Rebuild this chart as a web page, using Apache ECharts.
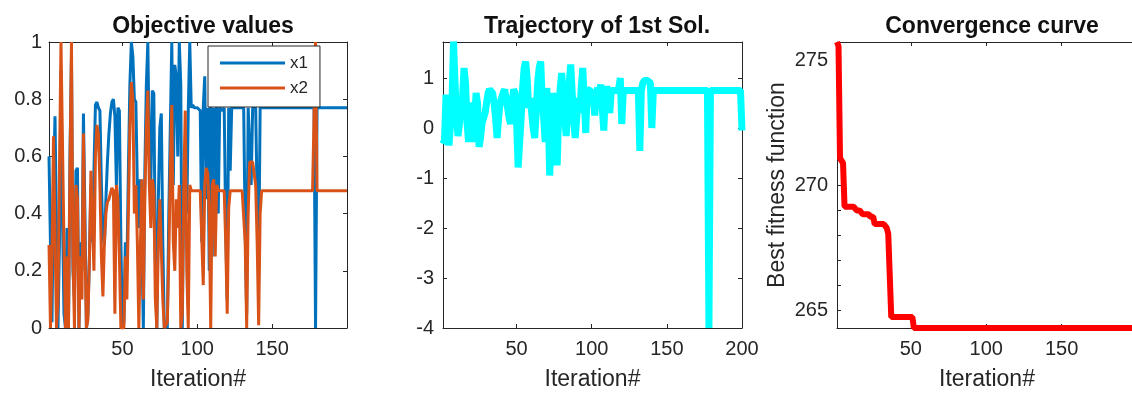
<!DOCTYPE html>
<html><head><meta charset="utf-8">
<script src="https://cdn.jsdelivr.net/npm/echarts@6/dist/echarts.min.js"></script>
<style>html,body{margin:0;padding:0;background:#fff}#c{width:1132px;height:393px}</style>
</head><body><div id="c"></div>
<script>
// ---- tick labels ----
const iterTicks1 = [50, 100, 150];
const iterTicks2 = [50, 100, 150, 200];
const iterTicks3 = [50, 100, 150];
const objTicks = [0, 0.2, 0.4, 0.6, 0.8, 1];
const trajTicks = [-4, -3, -2, -1, 0, 1];
const convLabelTicks = [265, 270, 275];
const convMinorTicks = [265, 266, 267, 268, 269, 270, 271, 272, 273, 274, 275];
const titles = ['Objective values', 'Trajectory of 1st Sol.', 'Convergence curve'];

// ---- series values, iteration 1..200 ----
const x1 = [
0.60,0.29,0.02,0.50,0.74,0.35,0.00,0.30,0.90,0.40,
0.05,0.00,0.35,0.00,0.60,0.95,0.20,0.10,0.55,0.56,
0.00,0.30,0.20,0.75,0.40,0.00,0.05,0.25,0.50,0.30,
0.55,0.78,0.79,0.77,0.76,0.50,0.32,0.29,0.45,0.58,
0.68,0.75,0.79,0.80,0.74,0.50,0.77,0.76,0.30,0.00,
0.02,0.30,0.20,0.55,0.85,1.00,0.95,0.80,0.79,0.50,
0.35,0.52,0.30,0.00,0.55,0.85,1.00,0.60,0.50,0.83,
0.82,0.25,0.00,0.45,0.70,0.75,0.30,0.00,0.02,0.00,
0.40,0.70,1.00,0.50,0.92,0.88,0.60,1.00,0.85,0.00,
0.50,0.55,0.40,0.76,1.00,0.77,0.78,0.77,0.77,0.77,
0.77,0.76,0.30,0.77,0.88,0.45,0.77,0.20,0.85,0.25,
0.77,0.50,0.82,0.40,0.77,0.77,0.76,0.77,0.35,0.10,
0.77,0.55,0.77,0.77,0.77,0.77,0.77,0.77,0.77,0.77,
0.77,0.35,0.05,0.77,0.77,0.50,0.77,0.77,0.77,0.45,
0.20,0.77,0.77,0.77,0.77,0.77,0.77,0.77,0.77,0.77,
0.77,0.77,0.77,0.77,0.77,0.77,0.77,0.77,0.77,0.77,
0.77,0.77,0.77,0.77,0.77,0.77,0.77,0.77,0.77,0.77,
0.77,0.77,0.77,0.77,0.77,0.77,0.77,0.77,0.00,0.77,
0.77,0.77,0.77,0.77,0.77,0.77,0.77,0.77,0.77,0.77,
0.77,0.77,0.77,0.77,0.77,0.77,0.77,0.77,0.77,0.77
];
const x2 = [
0.29,0.00,0.25,0.67,0.67,0.00,0.10,0.55,1.00,1.00,
0.30,0.00,0.25,0.00,0.55,1.00,0.25,0.00,0.50,0.45,
0.00,0.25,0.10,0.68,0.30,0.00,0.03,0.25,0.55,0.55,
0.20,0.60,0.71,0.68,0.50,0.25,0.11,0.30,0.40,0.44,
0.45,0.45,0.49,0.48,0.05,0.50,0.45,0.25,0.00,0.00,
0.00,0.25,0.10,0.40,0.70,0.86,0.80,0.40,0.50,0.30,
0.00,0.28,0.52,0.10,0.45,0.70,0.83,0.50,0.35,0.52,
0.48,0.10,0.00,0.30,0.45,0.45,0.10,0.00,0.00,0.02,
0.25,0.55,0.78,0.30,0.20,0.45,0.35,0.50,0.00,0.05,
0.50,0.76,0.20,0.00,0.50,0.48,0.48,0.48,0.48,0.48,
0.48,0.48,0.48,0.15,0.50,0.56,0.54,0.40,0.00,0.50,
0.52,0.25,0.50,0.48,0.48,0.48,0.48,0.48,0.30,0.05,
0.42,0.48,0.48,0.48,0.48,0.48,0.48,0.48,0.48,0.48,
0.48,0.30,0.00,0.40,0.58,0.58,0.58,0.58,0.50,0.30,
0.01,0.40,0.48,0.48,0.48,0.48,0.48,0.48,0.48,0.48,
0.48,0.48,0.48,0.48,0.48,0.48,0.48,0.48,0.48,0.48,
0.48,0.48,0.48,0.48,0.48,0.48,0.48,0.48,0.48,0.48,
0.48,0.48,0.48,0.48,0.48,0.48,0.48,0.48,1.00,0.48,
0.48,0.48,0.48,0.48,0.48,0.48,0.48,0.48,0.48,0.48,
0.48,0.48,0.48,0.48,0.48,0.48,0.48,0.48,0.48,0.48
];
const traj = [
-0.32,-0.25,0.67,0.30,-0.35,-0.35,0.50,1.73,0.90,0.20,
-0.16,0.10,0.40,0.60,1.20,0.90,0.10,-0.28,0.20,0.51,
-0.28,0.10,0.70,0.50,-0.38,-0.20,0.10,0.20,0.30,0.50,
0.70,0.77,0.77,0.70,0.50,0.20,-0.20,0.20,0.50,0.60,
0.70,0.77,0.77,0.40,0.20,0.08,0.50,0.77,0.70,0.10,
-0.79,-0.30,0.20,0.80,1.20,1.33,1.00,0.40,0.60,0.30,
0.00,-0.20,0.30,0.90,1.20,1.33,0.60,0.20,-0.28,0.80,
0.40,-0.95,-0.20,0.70,0.50,0.10,-0.75,0.30,0.80,1.10,
0.60,0.20,-0.16,0.50,0.90,1.27,0.70,0.10,-0.20,0.20,
0.60,0.30,0.80,1.20,0.60,-0.10,0.77,0.75,0.75,0.75,
0.60,0.25,0.70,0.80,0.70,0.87,0.40,-0.05,0.60,0.84,
0.50,0.30,0.75,0.75,0.75,0.75,0.75,0.80,1.00,0.08,
0.75,0.75,0.75,0.75,0.75,0.75,0.75,0.75,0.75,0.75,
0.75,-0.46,0.75,0.90,0.95,0.95,0.95,0.95,0.90,0.00,
0.75,0.75,0.75,0.75,0.75,0.75,0.75,0.75,0.75,0.75,
0.75,0.75,0.75,0.75,0.75,0.75,0.75,0.75,0.75,0.75,
0.75,0.75,0.75,0.75,0.75,0.75,0.75,0.75,0.75,0.75,
0.75,0.75,0.75,0.75,0.75,0.75,0.75,-4.00,0.75,0.75,
0.75,0.75,0.75,0.75,0.75,0.75,0.75,0.75,0.75,0.75,
0.75,0.75,0.75,0.75,0.75,0.75,0.75,0.75,0.75,-0.05
];
const conv = [
275.76,275.60,271.10,271.00,270.90,269.15,269.15,269.15,269.15,269.15,
269.15,269.15,269.15,269.00,269.00,269.00,269.00,268.85,268.85,268.85,
268.85,268.85,268.75,268.75,268.75,268.45,268.45,268.45,268.45,268.45,
268.45,268.45,268.45,268.30,268.05,268.05,264.72,264.72,264.72,264.72,
264.72,264.72,264.72,264.72,264.72,264.72,264.72,264.72,264.72,264.72,
264.72,264.28,264.28,264.28,264.28,264.28,264.28,264.28,264.28,264.28,
264.28,264.28,264.28,264.28,264.28,264.28,264.28,264.28,264.28,264.28,
264.28,264.28,264.28,264.28,264.28,264.28,264.28,264.28,264.28,264.28,
264.28,264.28,264.28,264.28,264.28,264.28,264.28,264.28,264.28,264.28,
264.28,264.28,264.28,264.28,264.28,264.28,264.28,264.28,264.28,264.28,
264.28,264.28,264.28,264.28,264.28,264.28,264.28,264.28,264.28,264.28,
264.28,264.28,264.28,264.28,264.28,264.28,264.28,264.28,264.28,264.28,
264.28,264.28,264.28,264.28,264.28,264.28,264.28,264.28,264.28,264.28,
264.28,264.28,264.28,264.28,264.28,264.28,264.28,264.28,264.28,264.28,
264.28,264.28,264.28,264.28,264.28,264.28,264.28,264.28,264.28,264.28,
264.28,264.28,264.28,264.28,264.28,264.28,264.28,264.28,264.28,264.28,
264.28,264.28,264.28,264.28,264.28,264.28,264.28,264.28,264.28,264.28,
264.28,264.28,264.28,264.28,264.28,264.28,264.28,264.28,264.28,264.28,
264.28,264.28,264.28,264.28,264.28,264.28,264.28,264.28,264.28,264.28,
264.28,264.28,264.28,264.28,264.28,264.28,264.28,264.28,264.28,264.28
];

const F = 'Liberation Sans, Arial, sans-serif';
const AX = '#262626';
const pairs = arr => arr.map((v, k) => [k + 1, v]);

function mkX(gi, ticks, pos) {
  const bottom = pos === 'bottom';
  return {
    type: 'value', gridIndex: gi, min: 1, max: 200, position: pos,
    axisLine: { show: true, onZero: false, lineStyle: { color: AX, width: 1 } },
    axisTick: { show: true, inside: true, length: 4, customValues: ticks, lineStyle: { color: AX } },
    axisLabel: { show: bottom, customValues: ticks, margin: 11, fontSize: 20, color: AX, fontFamily: F },
    splitLine: { show: false },
    name: bottom ? 'Iteration#' : '', nameLocation: 'middle', nameGap: 40,
    nameTextStyle: { fontSize: 23, color: AX, fontFamily: F }
  };
}
function mkY(gi, min, max, ticks, labels, pos, margin, name) {
  const left = pos === 'left';
  return {
    type: 'value', gridIndex: gi, min: min, max: max, position: pos,
    axisLine: { show: true, onZero: false, lineStyle: { color: AX, width: 1 } },
    axisTick: { show: true, inside: true, length: 4, customValues: ticks, lineStyle: { color: AX } },
    axisLabel: { show: left, customValues: labels, margin: margin, fontSize: 20, color: AX, fontFamily: F },
    splitLine: { show: false },
    name: left && name ? name : '', nameLocation: 'middle', nameGap: 48,
    nameTextStyle: { fontSize: 23, color: AX, fontFamily: F }
  };
}

const chart = echarts.init(document.getElementById('c'), null, { renderer: 'canvas' });
chart.setOption({
  animation: false,
  backgroundColor: '#fff',
  title: [
    { text: titles[0], left: 198, top: 10, textAlign: 'center', textStyle: { fontSize: 23, fontWeight: 'bold', color: '#111', fontFamily: F } },
    { text: titles[1], left: 592, top: 10, textAlign: 'center', textStyle: { fontSize: 23, fontWeight: 'bold', color: '#111', fontFamily: F } },
    { text: titles[2], left: 987, top: 10, textAlign: 'center', textStyle: { fontSize: 23, fontWeight: 'bold', color: '#111', fontFamily: F } }
  ],
  legend: {
    data: ['x1', 'x2'], orient: 'vertical', left: 208, top: 46,
    backgroundColor: '#fff', borderColor: AX, borderWidth: 1, borderRadius: 0,
    padding: [7, 12, 9, 12], itemGap: 5, itemWidth: 65, itemHeight: 3, icon: 'rect',
    textStyle: { fontSize: 17, lineHeight: 20, color: AX, fontFamily: F }
  },
  grid: [
    { left: 49, top: 42, width: 298, height: 286, containLabel: false, outerBoundsMode: 'none' },
    { left: 443, top: 42, width: 299, height: 286, containLabel: false, outerBoundsMode: 'none' },
    { left: 837, top: 42, width: 300, height: 286, containLabel: false, outerBoundsMode: 'none' }
  ],
  xAxis: [
    mkX(0, iterTicks1, 'bottom'), mkX(0, iterTicks1, 'top'),
    mkX(1, iterTicks2, 'bottom'), mkX(1, iterTicks2, 'top'),
    mkX(2, iterTicks3, 'bottom'), mkX(2, iterTicks3, 'top')
  ],
  yAxis: [
    mkY(0, 0, 1, objTicks, objTicks, 'left', 7), mkY(0, 0, 1, objTicks, objTicks, 'right', 7),
    mkY(1, -4, 1.72, trajTicks, trajTicks, 'left', 9), mkY(1, -4, 1.72, trajTicks, trajTicks, 'right', 9),
    mkY(2, 264.28, 275.76, convMinorTicks, convLabelTicks, 'left', 9, 'Best fitness function'),
    mkY(2, 264.28, 275.76, convMinorTicks, convLabelTicks, 'right', 9)
  ],
  series: [
    { type: 'line', name: 'x1', xAxisIndex: 0, yAxisIndex: 0, data: pairs(x1), symbol: 'none', showSymbol: false,
      lineStyle: { color: '#0072BD', width: 3 }, itemStyle: { color: '#0072BD' } },
    { type: 'line', name: 'x2', xAxisIndex: 0, yAxisIndex: 0, data: pairs(x2), symbol: 'none', showSymbol: false,
      lineStyle: { color: '#D95319', width: 3 }, itemStyle: { color: '#D95319' } },
    { type: 'line', name: 'traj', xAxisIndex: 2, yAxisIndex: 2, data: pairs(traj), symbol: 'none', showSymbol: false,
      lineStyle: { color: '#00FFFF', width: 7 }, itemStyle: { color: '#00FFFF' } },
    { type: 'line', name: 'conv', xAxisIndex: 4, yAxisIndex: 4, data: pairs(conv), symbol: 'none', showSymbol: false,
      lineStyle: { color: '#FF0000', width: 6 }, itemStyle: { color: '#FF0000' } }
  ]
});
</script></body></html>
